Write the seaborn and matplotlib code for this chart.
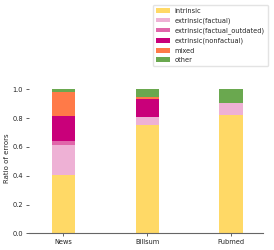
import matplotlib
matplotlib.use("Agg")
import matplotlib.pyplot as plt
import numpy as np
import pandas as pd
import seaborn as sns

# --- data -------------------------------------------------------------------
datasets   = ["News", "Billsum", "Pubmed"]
labels     = ["intrinsic", "extrinsic(factual)", "extrinsic(factual_outdated)",
              "extrinsic(nonfactual)", "mixed", "other"]
intrinsic  = [0.405, 0.752, 0.820]
factual    = [0.205, 0.058, 0.087]
outdated   = [0.030, 0.000, 0.000]
nonfactual = [0.175, 0.120, 0.000]
mixed      = [0.168, 0.014, 0.000]
other      = [0.017, 0.056, 0.093]

colors = ["#FFD966", "#EEB1D5", "#E066AA", "#C9007A", "#FF7A48", "#6AA84F"]

layers = np.array([intrinsic, factual, outdated, nonfactual, mixed, other])
tops = layers.cumsum(axis=0)

sns.set_style("ticks")
plt.rcParams["font.family"] = ["DejaVu Sans"]

fig = plt.figure(figsize=(2.74, 2.5), dpi=100)
ax = fig.add_axes([29 / 274, 0.0667, 234 / 274, 0.605])

# draw cumulative heights top layer first so lower layers cover them
for i in range(len(labels) - 1, -1, -1):
    df = pd.DataFrame({"dataset": datasets, "top": tops[i]})
    sns.barplot(data=df, x="dataset", y="top", color=colors[i], width=0.28,
                saturation=1, linewidth=0, label=labels[i], ax=ax)

ax.set_xlim(-0.41, 2.38)
ax.set_ylim(0, 1.05)
ax.set_yticks([0.0, 0.2, 0.4, 0.6, 0.8, 1.0])
ax.set_xlabel("")
ax.set_ylabel("Ratio of errors", fontsize=5, labelpad=2)
ax.tick_params(labelsize=4.8, length=2.2, width=0.5, pad=2, colors="#222222")
sns.despine(ax=ax, left=True)
ax.spines["bottom"].set_color("#666666")
ax.spines["bottom"].set_linewidth(0.8)

handles, labs = ax.get_legend_handles_labels()
if ax.legend_:
    ax.legend_.remove()
fig.legend(handles[::-1], labs[::-1], loc="upper right",
           bbox_to_anchor=(0.978, 0.981), borderaxespad=0, fontsize=4.8,
           frameon=True, handlelength=2.1, handleheight=0.7, borderpad=0.45,
           labelspacing=0.53, handletextpad=0.8, edgecolor="#dddddd",
           fancybox=True)

fig.savefig("out.png", dpi=100)
